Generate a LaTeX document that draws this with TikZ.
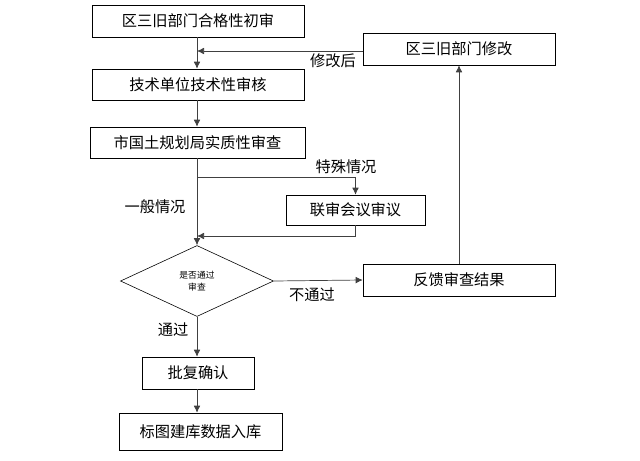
\documentclass[tikz,border=0pt]{standalone}
\usepackage{fontspec}
\setmainfont{Noto Sans CJK SC}
\usetikzlibrary{positioning, arrows, arrows.meta, calc, shapes}

\tikzset{
	box/.style={draw, rectangle, inner sep=0pt, line width=0.5pt, font=\fontsize{13}{15}\selectfont},
	check/.style={draw, diamond, aspect=2.15, inner sep=0pt, minimum width=45.9mm, minimum height=21.3mm, line width=0.5pt, font=\fontsize{7.5}{10}\selectfont, align=center},
	flow/.style={-{Latex[length=2.1mm, width=2mm]}, draw=black!75, line width=0.6pt},
	lbl/.style={font=\fontsize{13}{15}\selectfont}
}

\begin{document}
\begin{tikzpicture}[x=0.3mm, y=-0.3mm]
		
		%Page frame
		\useasboundingbox (0,0) rectangle (640,460);
		
		%Main flow
		\node (initialCheck) at (198,21) [box, minimum width=63.6mm, minimum height=9.6mm]{区三旧部门合格性初审};
		\node (techReview) at (198,84.5) [box, minimum width=63.6mm, minimum height=9.3mm]{技术单位技术性审核};
		\node (cityReview) at (197.5,142.5) [box, minimum width=64.5mm, minimum height=9.3mm]{市国土规划局实质性审查};
		\node (passCheck) at (197,281) [check]{是否通过\\审查};
		\node (approval) at (198,373) [box, minimum width=33.6mm, minimum height=9.6mm]{批复确认};
		\node (database) at (200.5,431.5) [box, minimum width=48.9mm, minimum height=11.1mm]{标图建库数据入库};
		
		%Side boxes
		\node (jointMeeting) at (355.5,210) [box, minimum width=41.7mm, minimum height=9mm]{联审会议审议};
		\node (feedback) at (459,280) [box, minimum width=57.6mm, minimum height=9.6mm]{反馈审查结果};
		\node (districtRevise) at (459,49) [box, minimum width=57.6mm, minimum height=9.6mm]{区三旧部门修改};
		
		%Helper points
		\coordinate (splitPoint) at (197,177);
		\coordinate (mergePoint) at (197,236);
		\coordinate (revisePoint) at (197,51);
		
		%Arrows of the main flow
		\draw[flow] (initialCheck.south -| revisePoint) -- (techReview.north -| revisePoint);
		\draw[flow] (techReview.south -| revisePoint) -- (cityReview.north -| revisePoint);
		\draw[flow] (cityReview.south -| revisePoint) -- (passCheck.north);
		\draw[flow] (passCheck.south) -- (approval.north -| passCheck.south);
		\draw[flow] (approval.south -| passCheck.south) -- (database.north -| passCheck.south);
		
		%Special case
		\draw[flow] (splitPoint) -- (splitPoint -| jointMeeting.north) -- (jointMeeting.north);
		\draw[flow] (jointMeeting.south) -- (jointMeeting.south |- mergePoint) -- (mergePoint);
		
		%Not passed
		\draw[flow] (passCheck.east) -- (feedback.west);
		\draw[flow] (feedback.north) -- (districtRevise.south);
		\draw[flow] (districtRevise.west |- revisePoint) -- (revisePoint);
		
		%Labels
		\node (labelRevised) at (333,61) [lbl]{修改后};
		\node (labelSpecial) at (346,167) [lbl]{特殊情况};
		\node (labelNormal) at (155,207) [lbl]{一般情况};
		\node (labelFail) at (312,295) [lbl]{不通过};
		\node (labelPass) at (173,330) [lbl]{通过};
		
		\end{tikzpicture}
\end{document}
